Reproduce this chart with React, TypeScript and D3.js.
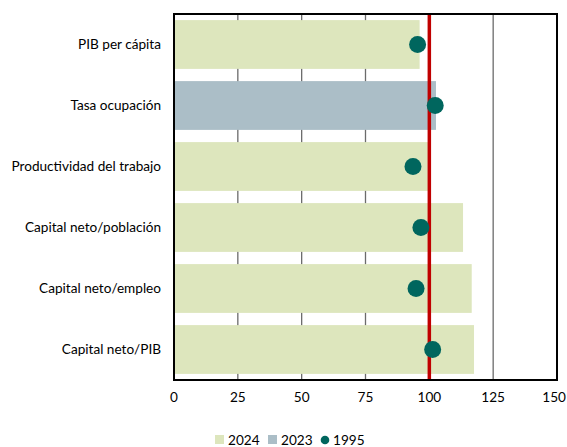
import React from 'react';
import * as d3 from 'd3';

const categories = [
  'PIB per cápita',
  'Tasa ocupación',
  'Productividad del trabajo',
  'Capital neto/población',
  'Capital neto/empleo',
  'Capital neto/PIB',
];
// which year each bar refers to
const barYears = ['2024', '2023', '2024', '2024', '2024', '2024'];
const barValues = [96.2, 102.6, 99.5, 113.2, 116.6, 117.5];
const dots1995 = [95.4, 102.3, 93.6, 96.7, 94.8, 101.3];
const xTicks = [0, 25, 50, 75, 100, 125, 150];

const colors: Record<string, string> = { '2024': '#dde6bd', '2023': '#abbec7', '1995': '#00665e' };

export default function App() {
  const width = 567;
  const height = 447;
  const left = 174;
  const right = 557;
  const top = 14;
  const bottom = 380;

  const x = d3.scaleLinear().domain([0, 150]).range([left, right]);
  const y = d3.scaleBand().domain(categories).range([top, bottom]).paddingInner(0.2).paddingOuter(0.1);
  const font = 'Lato, "Open Sans", sans-serif';
  const fs = 13.6;

  return (
    <svg width={width} height={height} style={{ position: 'absolute', left: 0, top: 0 }}>
      <rect width={width} height={height} fill="#fff" />
      {xTicks.map(t => (
        <line key={t} x1={x(t)} x2={x(t)} y1={top} y2={bottom} stroke="#6b6b6b" strokeWidth={1.3} />
      ))}
      {categories.map((c, i) => (
        <rect
          key={c}
          x={x(0)}
          y={y(c)}
          width={x(barValues[i]) - x(0)}
          height={y.bandwidth()}
          fill={colors[barYears[i]]}
        />
      ))}
      <line x1={x(100)} x2={x(100)} y1={top} y2={bottom} stroke="#c00000" strokeWidth={3.5} />
      {categories.map((c, i) => (
        <circle key={c} cx={x(dots1995[i])} cy={(y(c) ?? 0) + y.bandwidth() / 2} r={8.5} fill={colors['1995']} />
      ))}
      <rect x={left} y={top} width={right - left} height={bottom - top} fill="none" stroke="#000" strokeWidth={2} />
      {categories.map(c => (
        <text
          key={c}
          x={161}
          y={(y(c) ?? 0) + y.bandwidth() / 2}
          dy="0.35em"
          textAnchor="end"
          fontFamily={font}
          fontSize={fs}
          fill="#000"
        >
          {c}
        </text>
      ))}
      {xTicks.map((t, i) => {
        const last = i === xTicks.length - 1;
        return (
          <text
            key={t}
            x={last ? width - 1 : x(t)}
            y={397}
            dy="0.35em"
            textAnchor={last ? 'end' : 'middle'}
            fontFamily={font}
            fontSize={fs}
            fill="#000"
          >
            {t}
          </text>
        );
      })}
      <g fontFamily={font} fontSize={fs} fill="#000">
        <rect x={215} y={435} width={9} height={9} fill={colors['2024']} />
        <text x={228} y={440} dy="0.35em">2024</text>
        <rect x={268} y={435} width={9} height={9} fill={colors['2023']} />
        <text x={281} y={440} dy="0.35em">2023</text>
        <circle cx={325} cy={440} r={4.3} fill={colors['1995']} />
        <text x={333} y={440} dy="0.35em">1995</text>
      </g>
    </svg>
  );
}
